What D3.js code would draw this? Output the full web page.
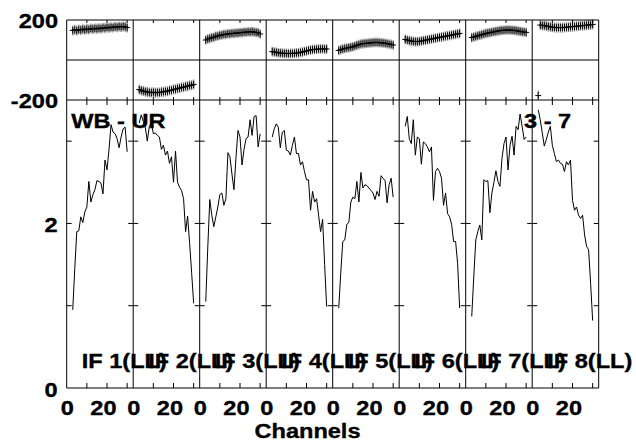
<!DOCTYPE html>
<html><head><meta charset="utf-8">
<script src="https://cdn.jsdelivr.net/npm/d3@7"></script>
<style>html,body{margin:0;padding:0;background:#fff}</style>
</head><body>
<svg id="c" width="636" height="442"></svg>
<script>
// ---- data ----
const ifLabels = ["IF 1(LL)","IF 2(LL)","IF 3(LL)","IF 4(LL)","IF 5(LL)","IF 6(LL)","IF 7(LL)","IF 8(LL)"];
const channels = [3,4,5,6,7,8,9,10,11,12,13,14,15,16,17,18,19,20,21,22,23,24,25,26,27,28,29,30];
const amp1 = [0.95,1.45,1.90,1.91,2.08,2.01,2.14,2.20,2.51,2.26,2.35,2.41,2.52,2.51,2.49,2.36,2.77,2.65,2.90,3.20,3.11,3.09,3.03,2.92,3.05,3.15,3.17,2.87];
const amp2 = [3.22,3.32,3.24,3.17,3.00,3.18,3.22,3.09,3.10,3.07,3.05,2.90,2.95,2.83,2.88,2.73,2.81,2.50,2.88,2.50,2.44,2.40,2.30,1.90,2.09,1.76,1.40,1.03];
const amp3 = [1.05,1.70,2.29,2.10,1.96,2.08,2.20,2.35,2.37,2.22,2.30,2.86,2.81,2.60,2.41,2.80,3.13,3.05,2.71,2.90,3.03,3.05,3.26,3.07,3.30,3.31,2.93,3.09];
const amp4 = [3.05,3.15,3.21,3.17,2.92,3.11,3.13,2.89,2.88,2.83,2.95,3.05,2.85,2.85,2.71,2.75,2.63,2.53,2.53,2.16,2.39,2.26,2.30,2.10,1.90,2.05,1.50,0.99];
const amp5 = [0.97,1.40,1.78,1.80,1.99,2.01,2.26,2.32,2.30,2.51,2.26,2.62,2.43,2.47,2.46,2.43,2.40,2.37,2.29,2.39,2.33,2.58,2.55,2.52,2.25,2.47,2.55,2.32];
const amp6 = [3.18,3.30,3.03,2.97,3.26,2.83,3.05,3.03,2.72,2.99,2.97,2.93,2.87,2.93,2.28,2.63,2.67,2.63,2.55,2.22,2.37,2.12,2.08,1.99,1.78,1.78,1.51,0.97];
const amp7 = [0.87,1.35,1.80,1.90,1.98,1.80,2.53,2.51,2.52,2.13,2.37,2.50,2.64,2.51,2.45,2.79,2.97,3.05,2.65,2.95,3.06,2.83,3.18,3.14,3.33,3.18,3.02,3.05];
const amp8 = [3.38,3.26,3.10,2.94,3.02,3.11,3.18,2.95,2.85,2.75,2.77,2.73,2.72,2.63,2.75,2.71,2.77,2.28,2.16,2.20,2.10,2.06,2.10,1.86,1.72,1.68,1.27,0.82];
const ph1 = [148,151,147,152,150,154,151,155,153,157,155,158,156,159,157,161,159,163,161,164,162,166,164,167,165,168,166,162];
const ph2 = [-148,-152,-155,-158,-160,-162,-163,-161,-164,-162,-163,-160,-159,-157,-156,-152,-151,-147,-146,-142,-141,-137,-136,-132,-131,-127,-126,-122];
const ph3 = [100,105,108,112,114,119,120,124,125,128,128,131,131,133,133,135,135,137,137,139,139,141,140,142,140,138,136,130];
const ph4 = [42,40,38,36,35,34,33,33,32,33,33,34,35,36,38,40,43,45,48,50,52,53,54,55,55,56,55,55];
const ph5 = [48,52,55,58,60,62,64,66,70,74,77,80,82,83,84,85,86,87,88,88,87,86,85,84,82,80,78,75];
const ph6 = [103,100,97,95,93,92,92,93,95,97,99,101,103,105,107,109,111,113,115,117,119,121,123,125,127,129,131,133];
const ph7 = [112,115,118,121,124,127,130,133,135,137,139,141,143,145,147,148,149,150,150,150,149,148,147,145,143,141,140,138];
const ph8 = [-178,175,173,172,170,168,166,164,163,162,162,162,162,163,164,165,166,167,168,169,170,171,172,173,174,175,176,178];
const phaseErr = [25,25,24,24,24,24,24,25];
const ampTicks = [1,2,3];
const ampLabels = [0,2];
const phaseLabels = [200,-200];
const chanTicks = [10,20,30];
const chanLabels = [0,20];
const baselineLabel = "WB - UR";
const stokesLabel = "3 - 7";
const xTitle = "Channels";

const amps = [amp1,amp2,amp3,amp4,amp5,amp6,amp7,amp8];
const phases = [ph1,ph2,ph3,ph4,ph5,ph6,ph7,ph8];

// ---- layout ----
const svg = d3.select("#c");
const FONT = "'Liberation Sans', Arial, Helvetica, sans-serif";
const FS = 20.5, SX = 1.15;
const panelX = d3.scaleLinear().domain([0,8]).range([66.7,598.7]);
const yAmp = d3.scaleLinear().domain([0,3.5]).range([388,100]);
const yPh = d3.scaleLinear().domain([-200,200]).range([100,20]);
const chanX = i => d3.scaleLinear().domain([0,33]).range([panelX(i), panelX(i+1)]);

function txt(x,y,s,anchor){
  svg.append("text").attr("transform",`translate(${x},${y}) scale(${SX},1)`)
    .attr("text-anchor",anchor||"start").attr("font-family",FONT)
    .attr("font-weight","bold").attr("font-size",FS).attr("fill","#000")
    .attr("stroke","#000").attr("stroke-width",0.35).text(s);
}

const g = svg.append("g");
// phase zero line
g.append("line").attr("x1",panelX(0)).attr("x2",panelX(8)).attr("y1",yPh(0)).attr("y2",yPh(0))
  .attr("stroke","#000").attr("stroke-width",1);

for (let i=0;i<8;i++){
  const x = chanX(i);
  const pg = g.append("g");
  // amplitude line
  const line = d3.line().x((d,k)=>x(channels[k])).y(d=>yAmp(d));
  pg.append("path").datum(amps[i]).attr("d",line).attr("fill","none")
    .attr("stroke","#000").attr("stroke-width",1).attr("stroke-linejoin","round");
  // phase error bars
  pg.selectAll(".eb").data(phases[i]).enter().append("line")
    .attr("x1",(d,k)=>x(channels[k])).attr("x2",(d,k)=>x(channels[k]))
    .attr("y1",d=>yPh(d+phaseErr[i])).attr("y2",d=>yPh(d-phaseErr[i]))
    .attr("stroke","#888").attr("stroke-width",1.3);
  // phase crosses
  pg.selectAll(".cr").data(phases[i]).enter().append("path")
    .attr("transform",(d,k)=>`translate(${x(channels[k])},${yPh(d)})`)
    .attr("d","M-3,0H3M0,-3.5V3.5").attr("stroke","#000").attr("stroke-width",1).attr("fill","none");
  // amplitude y ticks (both sides, inward)
  ampTicks.forEach(t=>{
    pg.append("line").attr("x1",panelX(i)).attr("x2",panelX(i)+5).attr("y1",yAmp(t)).attr("y2",yAmp(t)).attr("stroke","#000");
    pg.append("line").attr("x1",panelX(i+1)).attr("x2",panelX(i+1)-5).attr("y1",yAmp(t)).attr("y2",yAmp(t)).attr("stroke","#000");
  });
  // channel ticks
  chanTicks.forEach(t=>{
    const cx = x(t);
    pg.append("line").attr("x1",cx).attr("x2",cx).attr("y1",yAmp(0)).attr("y2",yAmp(0)-5).attr("stroke","#000");
    pg.append("line").attr("x1",cx).attr("x2",cx).attr("y1",yAmp.range()[1]).attr("y2",yAmp.range()[1]+5).attr("stroke","#000");
    pg.append("line").attr("x1",cx).attr("x2",cx).attr("y1",yPh(-200)).attr("y2",yPh(-200)-3).attr("stroke","#000");
    pg.append("line").attr("x1",cx).attr("x2",cx).attr("y1",yPh(200)).attr("y2",yPh(200)+3).attr("stroke","#000");
  });
  // channel labels
  chanLabels.forEach(t=>{
    txt(x(t) + (t===0?0.5:-3.6), 415, String(t), "middle");
  });
}
// panel frames
for (let i=0;i<=8;i++){
  g.append("line").attr("x1",panelX(i)).attr("x2",panelX(i)).attr("y1",yPh(200)).attr("y2",yAmp(0))
    .attr("stroke","#000").attr("stroke-width",1);
}
[yPh(200), yPh(-200), yAmp(0)].forEach(y=>{
  g.append("line").attr("x1",panelX(0)).attr("x2",panelX(8)).attr("y1",y).attr("y2",y)
    .attr("stroke","#000").attr("stroke-width",1);
});

// y labels
phaseLabels.forEach(v=>txt(58, yPh(v)+8, String(v), "end"));
ampLabels.forEach(v=>txt(57.5, yAmp(v)+8.8, String(v), "end"));

// IF labels
for (let i=0;i<8;i++) txt(panelX(i)+15, 368.3, ifLabels[i], "start");

txt(71.3, 128.3, baselineLabel, "start");
txt(524, 128.3, stokesLabel, "start");
txt(307.5, 438, xTitle, "middle");
</script>
</body></html>
